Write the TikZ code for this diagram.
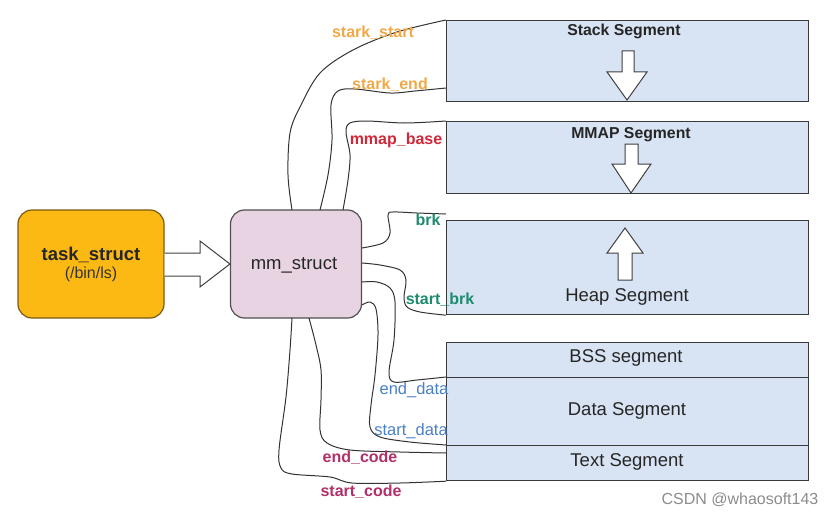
\documentclass[tikz,border=0pt]{standalone}
\usepackage{fontspec}
\setmainfont{Liberation Sans}
\definecolor{segfill}{HTML}{D8E3F4}
\definecolor{segline}{HTML}{3A3A3A}
\definecolor{taskfill}{HTML}{FDB913}
\definecolor{taskline}{HTML}{7A5A10}
\definecolor{mmfill}{HTML}{E8D3E2}
\definecolor{mmline}{HTML}{505050}
\definecolor{laborange}{HTML}{F0A848}
\definecolor{labred}{HTML}{D02838}
\definecolor{labteal}{HTML}{1E8A6E}
\definecolor{labblue}{HTML}{4A80C8}
\definecolor{labmag}{HTML}{B0306A}
\begin{document}
\begin{tikzpicture}[x=1pt,y=-1pt,
  seg/.style={draw=segline, fill=segfill, line width=1.2pt, minimum width=362pt, inner sep=0pt, anchor=north west},
  segtxt/.style={inner sep=0pt, font=\fontsize{18.5}{20}\selectfont, text=black!85},
  segbold/.style={inner sep=0pt, font=\fontsize{15.8}{17}\selectfont\bfseries, text=black!85},
  lab/.style={inner sep=0pt, font=\fontsize{16}{17}\selectfont\bfseries},
  labreg/.style={inner sep=0pt, font=\fontsize{16.5}{17}\selectfont},
  conn/.style={draw=black!80, line width=1pt},
  barrow/.style={draw=black!75, fill=white, line width=1pt, line join=miter}]
\useasboundingbox (0,0) rectangle (834,516);

% memory segments
\node[seg, minimum height=81pt] (stack) at (446,20) {};
\node[seg, minimum height=72pt] (mmap) at (446,121) {};
\node[seg, minimum height=94pt] (heap) at (446,220) {};
\node[seg, minimum height=35pt] (bss) at (446,342) {};
\node[seg, minimum height=68pt] (data) at (446,377) {};
\node[seg, minimum height=35pt] (text) at (446,445) {};

\node[segbold] (stacklbl) at (624,31) {Stack Segment};
\node[segbold] (mmaplbl) at (631,135) {MMAP Segment};
\node[segtxt] (heaplbl) at (627,297) {Heap Segment};
\node[segtxt] (bsslbl) at (626,358) {BSS segment};
\node[segtxt] (datalbl) at (627,411) {Data Segment};
\node[segtxt] (textlbl) at (627,462) {Text Segment};

% block arrows inside segments
\draw[barrow] (622,51) -- (634,51) -- (634,72) -- (647,72) -- (627,100) -- (607,72) -- (622,72) -- cycle;
\draw[barrow] (625,144) -- (638,144) -- (638,164) -- (651,164) -- (631,193) -- (612,164) -- (625,164) -- cycle;
\draw[barrow] (618,280) -- (632,280) -- (632,253) -- (643,253) -- (625,228) -- (607,253) -- (618,253) -- cycle;

% task_struct and mm_struct
\node[draw=taskline, fill=taskfill, line width=1.2pt, rounded corners=14pt,
      minimum width=146pt, minimum height=108pt, inner sep=0pt] (task) at (91,264) {};
\node[inner sep=0pt, font=\fontsize{18.5}{20}\selectfont\bfseries, text=black!85] (tasklbl) at (91,255) {task\_struct};
\node[inner sep=0pt, font=\fontsize{16}{17}\selectfont, text=black!80] (tasksub) at (91,274) {(/bin/ls)};

\node[draw=mmline, fill=mmfill, line width=1.2pt, rounded corners=14pt,
      minimum width=131pt, minimum height=108pt, inner sep=0pt] (mm) at (296,264) {};
\node[inner sep=0pt, font=\fontsize{18.5}{20}\selectfont, text=black!85] (mmlbl) at (294,265) {mm\_struct};

% big hollow arrow task -> mm
\draw[barrow] (task.east |- 0,253) -- (200,253) -- (200,241) -- (mm.west) -- (200,287) -- (200,276) -- (task.east |- 0,276);

% connectors
\coordinate (c1) at (292,210);
\coordinate (c2) at (320,210);
\coordinate (c3) at (343,210);
\coordinate (r1) at (362,248);
\coordinate (r2) at (362,263);
\coordinate (r3) at (362,282);
\coordinate (r4) at (362,305);
\coordinate (b1) at (309,318);
\coordinate (b2) at (292,318);
\coordinate (brkend) at (446,214);

\draw[conn] plot[smooth, tension=0.55] coordinates {(c1) (288,175) (290,133) (300,107) (320,73) (353,50) (397,32) (stack.north west)};
\draw[conn] plot[smooth, tension=0.55] coordinates {(c2) (328,175) (332,140) (331,105) (338,91) (355,89) (390,93) (415,91) (446,88)};
\draw[conn] plot[smooth, tension=0.55] coordinates {(c3) (348,180) (350,155) (346,132) (350,123) (367,121) (405,123) (mmap.north west)};
\draw[conn] plot[smooth, tension=0.55] coordinates {(r1) (383,243) (390,233) (388,215) (393,212) (417,213) (brkend)};
\draw[conn] plot[smooth, tension=0.55] coordinates {(r2) (380,265) (400,270) (406,280) (404,297) (407,307) (420,312) (heap.south west)};
\draw[conn] plot[smooth, tension=0.55] coordinates {(r3) (377,282) (390,288) (395,302) (394,340) (389,372) (394,382) (417,380) (data.north west)};
\draw[conn] plot[smooth, tension=0.55] coordinates {(r4) (370,302) (376,309) (378,335) (375,375) (371,405) (370,427) (380,437) (410,442) (text.north west)};
\draw[conn] plot[smooth, tension=0.55] coordinates {(b1) (316,345) (321,370) (321,400) (320,430) (327,443) (350,450) (400,452) (446,453)};
\draw[conn] plot[smooth, tension=0.55] coordinates {(b2) (290,350) (286,397) (279,450) (281,468) (292,474) (330,477) (352,483) (400,483) (text.south west)};

% labels
\node[lab, text=laborange] (lstackstart) at (373,33) {stark\_start};
\node[lab, text=laborange] (lstackend) at (390,85) {stark\_end};
\node[lab, text=labred] (lmmap) at (396,140) {mmap\_base};
\node[lab, text=labteal] (lbrk) at (428,220) {brk};
\node[lab, text=labteal] (lstartbrk) at (440,300) {start\_brk};
\node[labreg, text=labblue] (lenddata) at (414,390) {end\_data};
\node[labreg, text=labblue] (lstartdata) at (411,431) {start\_data};
\node[lab, text=labmag] (lendcode) at (360,458) {end\_code};
\node[lab, text=labmag] (lstartcode) at (361,492) {start\_code};

% watermark
\node[inner sep=0pt, font=\fontsize{16}{17}\selectfont, text=black!45] (wm) at (740,500) {CSDN @whaosoft143};
\end{tikzpicture}
\end{document}
